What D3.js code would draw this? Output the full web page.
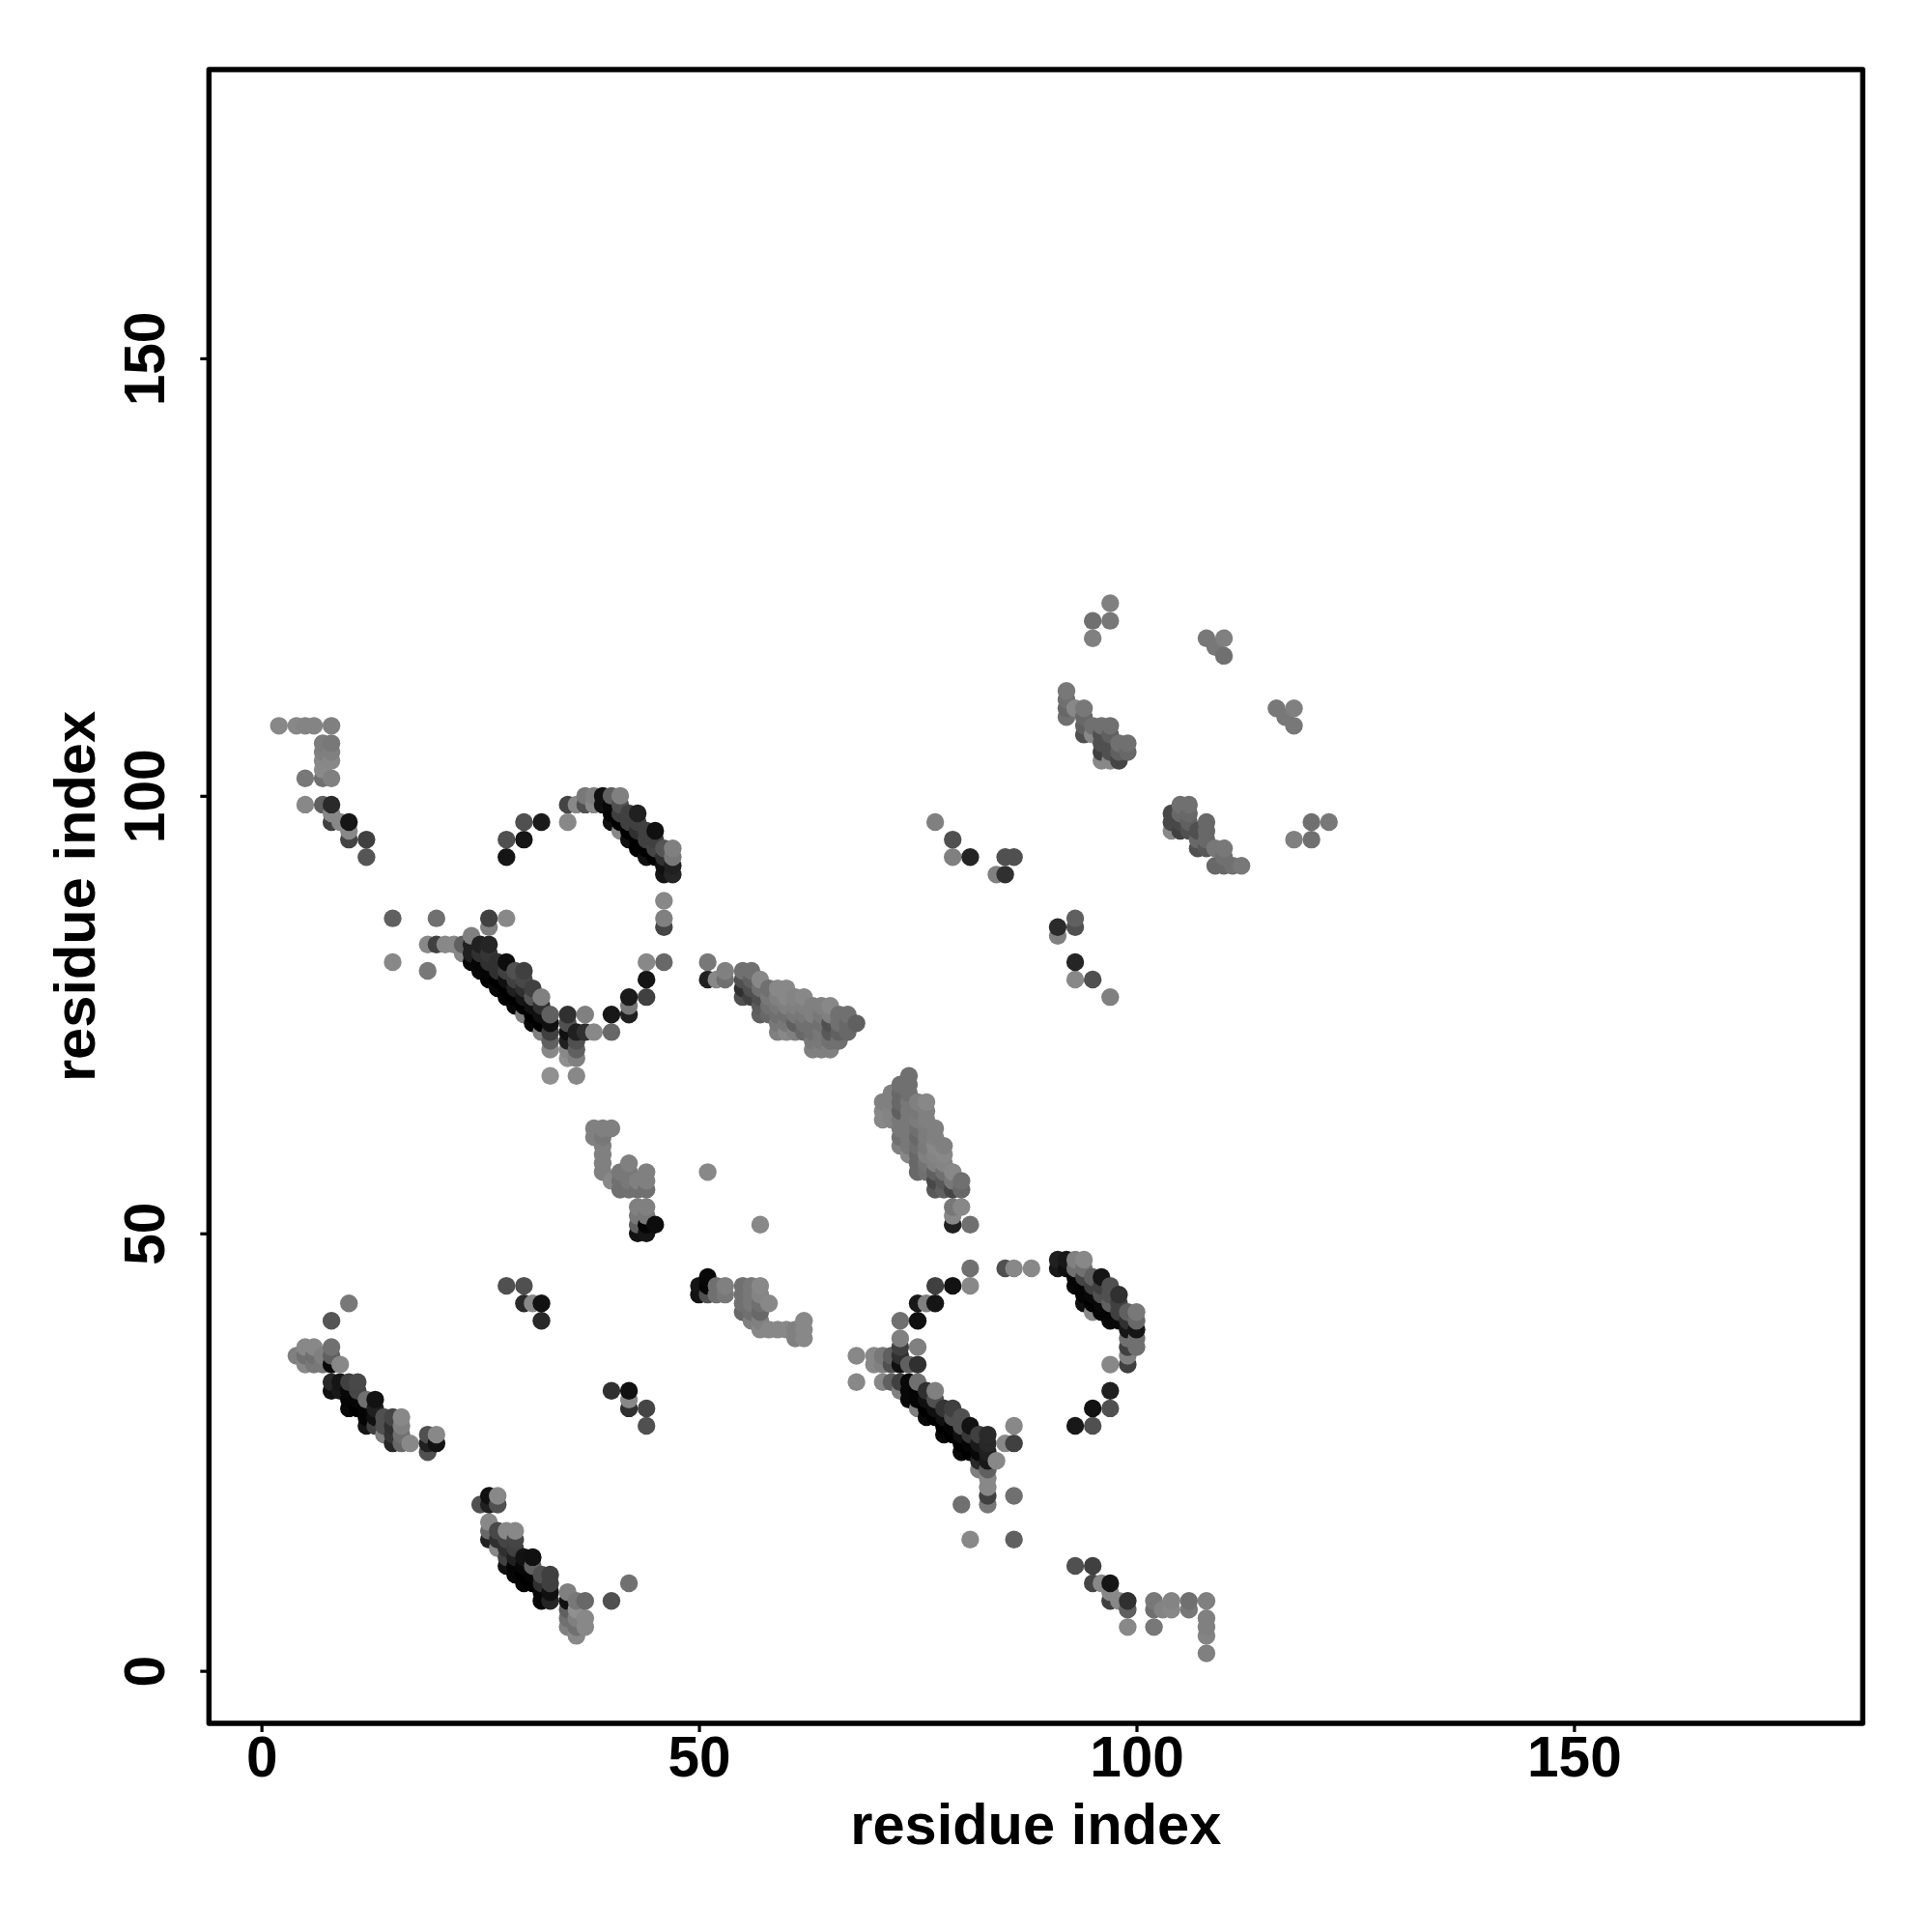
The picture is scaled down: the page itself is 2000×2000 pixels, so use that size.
<!DOCTYPE html>
<html><head><meta charset="utf-8">
<script src="https://cdn.jsdelivr.net/npm/d3@7"></script>
<style>html,body{margin:0;background:#fff}</style></head><body>
<script>
// [residue i, residue j, shade]
const hook1=[[2,108,0x88],[4,108,0x88],[5,108,0x84],[6,108,0x84],[8,108,0x80],[7,106,0x7c],[8,106,0x78],[7,105,0x80],[8,105,0x80],[7,104,0x88],[8,104,0x88],[7,103,0x8a],[5,102,0x78],[7,102,0x70],[8,102,0x80],[5,99,0x88],[7,99,0x60],[8,98,0x88],[8,97,0x40],[8,99,0x2a],[10,96,0x88],[10,95,0x44],[9,97,0x88],[10,97,0x15],[12,95,0x40],[12,93,0x55]];
const ringTop1=[[28,95,0x50],[28,93,0x15],[30,97,0x50],[30,95,0x15],[32,97,0x1a],[35,97,0x88],[35,99,0x44],[36,99,0x88],[37,99,0x50],[38,99,0x88],[37,100,0x78],[38,100,0x80]];
const band1=[[41,96,0x88],[39,99,0x10],[39,100,0x10],[40,99,0x08],[40,98,0x05],[40,97,0x10],[41,97,0x00],[42,96,0x00],[42,95,0x10],[43,95,0x00],[43,94,0x00],[44,94,0x00],[44,93,0x10],[45,93,0x00],[40,100,0x60],[41,99,0x50],[41,98,0x40],[42,98,0x40],[42,97,0x40],[43,98,0x20],[43,97,0x40],[43,96,0x30],[44,96,0x40],[44,95,0x40],[45,96,0x10],[45,95,0x40],[45,94,0x45],[46,94,0x55],[46,93,0x30],[46,92,0x10],[46,91,0x15],[47,92,0x20],[47,91,0x25],[47,93,0x78],[47,94,0x80],[41,100,0x80]];
const ringSide1=[[46,85,0x45],[46,88,0x88],[46,86,0x80],[46,81,0x68],[44,81,0x88],[44,79,0x15],[44,77,0x40],[42,75,0x20],[42,76,0x78],[42,77,0x1a],[40,75,0x18],[40,73,0x68]];
const strays1=[[15,86,0x60],[20,86,0x70],[26,85,0x80],[26,86,0x40],[28,86,0x88],[15,81,0x88],[19,80,0x78],[19,83,0x88],[20,83,0x40],[21,83,0x88],[22,83,0x88],[23,83,0x60],[23,82,0x88],[24,84,0x80]];
const band2=[[24,83,0x20],[24,82,0x20],[24,81,0x08],[25,83,0x20],[26,83,0x25],[25,82,0x30],[26,82,0x35],[25,81,0x05],[26,81,0x30],[27,81,0x30],[25,80,0x08],[26,80,0x05],[27,80,0x30],[26,79,0x02],[27,79,0x00],[28,81,0x0d],[28,80,0x40],[28,79,0x10],[27,78,0x08],[28,78,0x00],[29,80,0x50],[29,79,0x40],[29,78,0x20],[30,80,0x40],[30,79,0x48],[30,78,0x30],[28,77,0x02],[29,77,0x00],[30,77,0x15],[29,76,0x08],[30,76,0x00],[31,78,0x40],[31,77,0x55],[31,76,0x10],[30,75,0x80],[31,75,0x00],[31,74,0x08],[32,76,0x30],[32,75,0x10],[32,77,0x80],[32,74,0x00],[32,73,0x80],[33,74,0x10],[33,73,0x40],[33,75,0x60],[33,72,0x60],[33,71,0x88],[33,68,0x90]];
const corner1=[[35,70,0x90],[36,70,0x80],[35,71,0x88],[35,72,0x20],[36,71,0x60],[36,72,0x50],[35,74,0x50],[35,73,0x10],[36,73,0x20],[37,73,0x30],[35,75,0x30],[37,75,0x80],[38,73,0x88],[36,68,0x88]];
const sheet1=[[51,81,0x78],[51,79,0x20],[52,79,0x88],[53,79,0x70],[53,80,0x80],[55,77,0x50],[56,77,0x40],[55,78,0x30],[56,78,0x50],[55,79,0x50],[56,79,0x60],[55,80,0x70],[56,80,0x70],[57,79,0x88],[57,78,0x70],[57,77,0x50],[57,76,0x5c],[57,75,0x60],[58,78,0x70],[58,77,0x78],[58,76,0x70],[58,75,0x68],[59,78,0x88],[59,77,0x80],[59,76,0x78],[59,75,0x70],[59,74,0x78],[59,73,0x80],[60,78,0x88],[60,77,0x88],[60,76,0x80],[60,75,0x70],[60,74,0x78],[60,73,0x88],[61,77,0x84],[61,76,0x80],[61,75,0x78],[61,74,0x60],[61,73,0x80],[62,77,0x88],[62,76,0x80],[62,75,0x78],[62,74,0x70],[62,73,0x68],[63,76,0x80],[63,75,0x80],[63,74,0x70],[63,73,0x70],[63,72,0x78],[63,71,0x80],[64,76,0x80],[64,75,0x78],[64,74,0x70],[64,73,0x78],[64,72,0x78],[64,71,0x80],[65,76,0x88],[65,75,0x80],[65,74,0x50],[65,73,0x58],[65,72,0x70],[65,71,0x80],[66,75,0x70],[66,74,0x70],[66,73,0x60],[66,72,0x70],[67,75,0x70],[67,74,0x68],[67,73,0x68],[68,74,0x60]];
const helix=[[74,68,0x70],[73,67,0x70],[74,67,0x70],[72,66,0x80],[73,66,0x68],[74,66,0x70],[71,65,0x80],[72,65,0x80],[73,65,0x68],[74,65,0x78],[75,65,0x80],[76,65,0x88],[71,64,0x88],[72,64,0x84],[73,64,0x60],[74,64,0x78],[75,64,0x78],[76,64,0x80],[71,63,0x88],[72,63,0x84],[73,63,0x78],[74,63,0x78],[75,63,0x7c],[76,63,0x80],[73,62,0x78],[74,62,0x78],[75,62,0x70],[76,62,0x7c],[77,62,0x80],[73,61,0x70],[74,61,0x78],[75,61,0x68],[76,61,0x7c],[77,61,0x80],[73,60,0x80],[74,60,0x78],[75,60,0x70],[76,60,0x7a],[77,60,0x88],[78,60,0x80],[74,59,0x88],[75,59,0x68],[76,59,0x80],[77,59,0x84],[78,59,0x88],[75,58,0x68],[76,58,0x74],[77,58,0x80],[78,58,0x84],[75,57,0x68],[76,57,0x70],[77,57,0x60],[78,57,0x70],[79,57,0x88],[77,56,0x48],[78,56,0x58],[77,55,0x58],[78,55,0x60],[79,55,0x45],[79,56,0x78],[80,55,0x68],[80,56,0x70],[79,51,0x20],[79,52,0x88],[79,53,0x78],[80,53,0x88],[81,51,0x70],[51,57,0x88],[57,51,0x88]];
const turn1=[[38,62,0x80],[39,62,0x80],[40,62,0x80],[38,61,0x80],[39,61,0x78],[39,60,0x80],[39,59,0x80],[39,58,0x80],[39,57,0x80],[40,56,0x88],[41,57,0x78],[41,56,0x70],[41,55,0x70],[42,55,0x70],[43,55,0x70],[44,55,0x70],[42,56,0x78],[43,56,0x80],[44,56,0x80],[44,57,0x80],[42,57,0x78],[42,58,0x80],[43,50,0x12],[44,50,0x15],[43,51,0x60],[44,51,0x05],[45,51,0x0d],[43,52,0x78],[44,52,0x78],[43,53,0x80],[44,53,0x80]];
const turn2=[[51,45,0x08],[50,44,0x15],[50,43,0x12],[51,44,0x05],[51,43,0x50],[52,44,0x70],[52,43,0x70],[53,44,0x80],[53,43,0x78],[55,41,0x68],[55,42,0x70],[55,43,0x70],[55,44,0x70],[56,40,0x80],[56,41,0x70],[56,42,0x78],[56,43,0x78],[56,44,0x78],[57,39,0x88],[57,40,0x80],[57,41,0x68],[57,42,0x70],[57,43,0x84],[57,44,0x88],[58,42,0x88],[58,39,0x88],[59,39,0x88],[60,39,0x88],[61,39,0x80],[61,38,0x80],[62,38,0x88],[62,39,0x88],[62,40,0x88]];
const ringTop2=[[81,46,0x70],[85,46,0x50],[86,46,0x88],[88,46,0x88],[81,44,0x88],[79,44,0x12],[77,44,0x40],[77,42,0x15],[75,42,0x18],[76,42,0x80],[75,40,0x10],[73,40,0x70],[73,37,0x40],[73,38,0x80],[75,37,0x80]];
const strays2=[[68,36,0x88],[68,33,0x88],[70,36,0x88],[70,35,0x88],[71,36,0x78],[71,35,0x80],[72,36,0x60],[72,35,0x50],[73,36,0x30],[73,35,0x10],[74,35,0x60],[75,35,0x30],[71,33,0x88],[72,33,0x60],[73,33,0x40],[73,32,0x80]];
const band3=[[75,30,0x80],[74,33,0x08],[74,32,0x08],[74,31,0x08],[75,33,0x70],[75,32,0x04],[75,31,0x05],[76,32,0x30],[76,31,0x10],[76,30,0x00],[76,29,0x08],[77,32,0x80],[77,31,0x50],[77,30,0x10],[77,29,0x00],[78,30,0x35],[78,29,0x10],[78,28,0x00],[78,27,0x08],[79,30,0x40],[79,29,0x50],[79,28,0x05],[79,27,0x00],[80,29,0x50],[80,28,0x50],[80,27,0x10],[80,26,0x00],[80,25,0x08],[81,28,0x12],[81,27,0x38],[81,26,0x05],[81,25,0x00],[82,27,0x40],[82,26,0x1a],[82,25,0x08],[82,23,0x80],[82,24,0x28],[83,23,0x60],[83,27,0x2a],[83,26,0x28],[83,25,0x20],[83,24,0x18],[84,24,0x88],[85,26,0x88],[86,26,0x40],[86,28,0x88],[83,22,0x88],[83,21,0x88],[83,19,0x78],[83,20,0x40],[80,19,0x70],[86,20,0x70],[81,15,0x88],[86,15,0x60]];
const band4=[[91,47,0x20],[92,47,0x18],[91,46,0x18],[92,46,0x10],[93,45,0x05],[93,44,0x08],[94,45,0x45],[94,44,0x05],[94,43,0x05],[94,42,0x10],[95,45,0x60],[95,44,0x40],[95,43,0x08],[95,42,0x00],[95,41,0x88],[96,45,0x15],[96,44,0x40],[96,43,0x50],[96,42,0x08],[96,41,0x05],[97,44,0x50],[97,43,0x50],[97,42,0x60],[97,41,0x05],[97,40,0x08],[98,43,0x30],[98,42,0x40],[98,41,0x40],[98,40,0x08],[99,41,0x60],[99,38,0x70],[99,37,0x40],[99,35,0x40],[99,36,0x80],[100,37,0x70],[99,40,0x30],[99,39,0x15],[100,38,0x70],[100,39,0x15],[100,40,0x68],[100,41,0x78],[93,46,0x70],[94,46,0x70],[93,47,0x80],[94,47,0x88],[97,35,0x88]];
const ringSide2=[[97,32,0x20],[95,30,0x12],[97,30,0x50],[93,28,0x18],[95,28,0x50]];
const tail2=[[93,12,0x50],[95,12,0x40],[95,10,0x45],[96,10,0x88],[97,9,0x88],[97,8,0x40],[98,8,0x88],[97,10,0x15],[99,7,0x60],[99,8,0x30],[99,5,0x88],[102,5,0x78],[102,8,0x78],[102,7,0x70],[103,7,0x84],[104,7,0x88],[104,8,0x84],[106,7,0x78],[106,8,0x70],[108,8,0x80],[108,6,0x80],[108,5,0x80],[108,4,0x84],[108,2,0x80]];
const hook2=[[10,42,0x78],[8,40,0x55],[8,37,0x70],[6,37,0x88],[5,37,0x88],[4,36,0x80],[5,36,0x70],[6,36,0x70],[7,36,0x80],[8,35,0x08],[8,36,0x60],[5,35,0x88],[6,35,0x78],[7,35,0x78],[9,35,0x88],[8,33,0x28],[9,33,0x15],[10,33,0x40],[11,33,0x48],[8,32,0x10],[9,32,0x18],[10,32,0x08],[11,32,0x45],[10,31,0x05],[11,31,0x05],[12,31,0x70],[13,31,0x12],[10,30,0x08],[11,30,0x00],[12,30,0x05],[13,30,0x20],[12,29,0x05],[13,29,0x10],[14,29,0x50],[12,28,0x15],[13,28,0x40],[14,28,0x50],[14,27,0x80],[15,29,0x45],[15,28,0x30],[15,27,0x35],[15,26,0x25],[16,26,0x68],[16,27,0x70],[16,28,0x80],[16,29,0x88],[17,26,0x88],[19,25,0x50],[19,26,0x20],[20,26,0x12],[19,27,0x50],[20,27,0x88]];
const band5=[[25,19,0x50],[26,20,0x10],[26,19,0x20],[27,19,0x50],[27,20,0x88],[26,15,0x20],[26,16,0x68],[26,17,0x88],[27,14,0x88],[27,15,0x30],[27,16,0x48],[28,15,0x45],[28,14,0x30],[28,16,0x88],[29,15,0x45],[29,14,0x40],[29,16,0x88],[28,13,0x40],[28,12,0x10],[29,13,0x20],[29,12,0x05],[29,11,0x08],[30,13,0x12],[30,12,0x08],[30,11,0x00],[30,10,0x05],[31,13,0x10],[31,12,0x60],[31,11,0x05],[31,10,0x00],[32,11,0x50],[32,10,0x30],[32,9,0x08],[32,8,0x08],[33,11,0x40],[33,10,0x40],[33,9,0x10],[33,8,0x25],[35,8,0x10],[35,7,0x60],[35,6,0x70],[35,5,0x80],[35,9,0x80],[36,7,0x90],[36,6,0x80],[36,5,0x70],[36,4,0x88],[36,8,0x78],[37,8,0x68],[37,6,0x88],[37,5,0x88],[40,8,0x50],[42,10,0x70]];
const islands=[[28,44,0x50],[30,44,0x50],[30,42,0x2a],[31,42,0x88],[32,42,0x12],[32,40,0x28],[40,32,0x30],[42,31,0x88],[42,32,0x10],[42,30,0x30],[44,30,0x45],[44,28,0x50]];
const upper=[[97,122,0x80],[95,120,0x70],[97,120,0x78],[95,118,0x80],[108,118,0x78],[110,118,0x80],[109,117,0x78],[110,116,0x70],[116,110,0x78],[118,110,0x80],[117,109,0x78],[118,108,0x78],[92,112,0x78],[92,111,0x70],[92,110,0x68],[92,109,0x70],[93,110,0x88],[94,110,0x78],[94,109,0x68],[94,108,0x60],[95,108,0x70],[96,108,0x70],[97,108,0x70],[94,107,0x50],[95,107,0x88],[96,107,0x50],[97,107,0x60],[96,104,0x88],[97,104,0x88],[96,105,0x40],[97,105,0x50],[96,106,0x50],[97,106,0x50],[98,104,0x45],[98,105,0x60],[98,106,0x70],[99,105,0x68],[99,106,0x70]];
const upper2=[[104,96,0x88],[104,97,0x48],[104,98,0x48],[105,96,0x40],[105,97,0x48],[105,98,0x68],[105,99,0x70],[106,96,0x50],[106,97,0x60],[106,98,0x68],[106,99,0x70],[107,94,0x50],[107,95,0x68],[107,96,0x50],[108,94,0x58],[108,95,0x68],[108,96,0x68],[108,97,0x68],[109,92,0x68],[110,92,0x68],[110,93,0x70],[109,94,0x78],[110,94,0x78],[111,92,0x70],[112,92,0x78],[120,97,0x70],[122,97,0x78],[118,95,0x80],[120,95,0x70]];
const midStrays=[[77,97,0x80],[79,95,0x50],[79,93,0x80],[81,93,0x25],[85,93,0x50],[86,93,0x50],[84,91,0x80],[85,91,0x30],[93,86,0x60],[93,85,0x50],[91,84,0x80],[91,85,0x2a],[93,81,0x25],[93,79,0x88],[95,79,0x50],[97,77,0x80]];

const tickValues=[0,50,100,150];
const axisTitle="residue index";
const contacts=[...hook1,...ringTop1,...band1,...ringSide1,...strays1,...band2,...corner1,...sheet1,...helix,...turn1,...turn2,...ringTop2,...strays2,...band3,...band4,...ringSide2,...tail2,...hook2,...band5,...islands,...upper,...upper2,...midStrays]
  .sort((a,b)=>d3.ascending(a[0],b[0])||d3.ascending(a[1],b[1]));

const svg=d3.select("body").append("svg").attr("width",2000).attr("height",2000).style("display","block");
const L=216.3,R=1928.3,T=72,B=1784;
const x=d3.scaleLinear().domain([-6,183]).range([L,R]);
const y=d3.scaleLinear().domain([-6,183]).range([B,T]);
const shade=d3.scaleLinear().domain([0,255]).range(["#000","#fff"]);

svg.append("g").selectAll("circle").data(contacts).join("circle")
  .attr("cx",d=>x(d[0])).attr("cy",d=>y(d[1])).attr("r",9.2).attr("fill",d=>shade(d[2]));

const font="'Liberation Sans',Arial,sans-serif";
const ax=d3.axisBottom(x).tickValues(tickValues).tickSize(9).tickPadding(2);
const gx=svg.append("g").attr("transform",`translate(0,${B})`).call(ax);
const ay=d3.axisLeft(y).tickValues(tickValues).tickSize(9).tickPadding(2);
const gy=svg.append("g").attr("transform",`translate(${L},0)`).call(ay);
[gx,gy].forEach(g=>{g.select(".domain").remove();g.selectAll("line").attr("stroke","#000").attr("stroke-width",3.2);});
gx.selectAll("text").attr("y",55).attr("dy",null).attr("font-family",font).attr("font-weight","bold").attr("font-size",58.5).attr("fill","#000");
gy.selectAll("text").attr("font-family",font).attr("font-weight","bold").attr("font-size",58.5).attr("fill","#000")
  .attr("x",null).attr("dy",null).attr("text-anchor","middle")
  .attr("transform",`translate(-46.5,0) rotate(-90)`);
svg.append("rect").attr("x",L).attr("y",T).attr("width",R-L).attr("height",B-T).attr("fill","none").attr("stroke","#000").attr("stroke-width",5.4).attr("stroke-linejoin","round");
svg.append("text").attr("x",(L+R)/2).attr("y",1909).attr("text-anchor","middle").attr("font-family",font).attr("font-weight","bold").attr("font-size",59.6).text(axisTitle);
svg.append("text").attr("transform",`translate(98,${(T+B)/2}) rotate(-90)`).attr("text-anchor","middle").attr("font-family",font).attr("font-weight","bold").attr("font-size",59.6).text(axisTitle);
</script></body></html>
